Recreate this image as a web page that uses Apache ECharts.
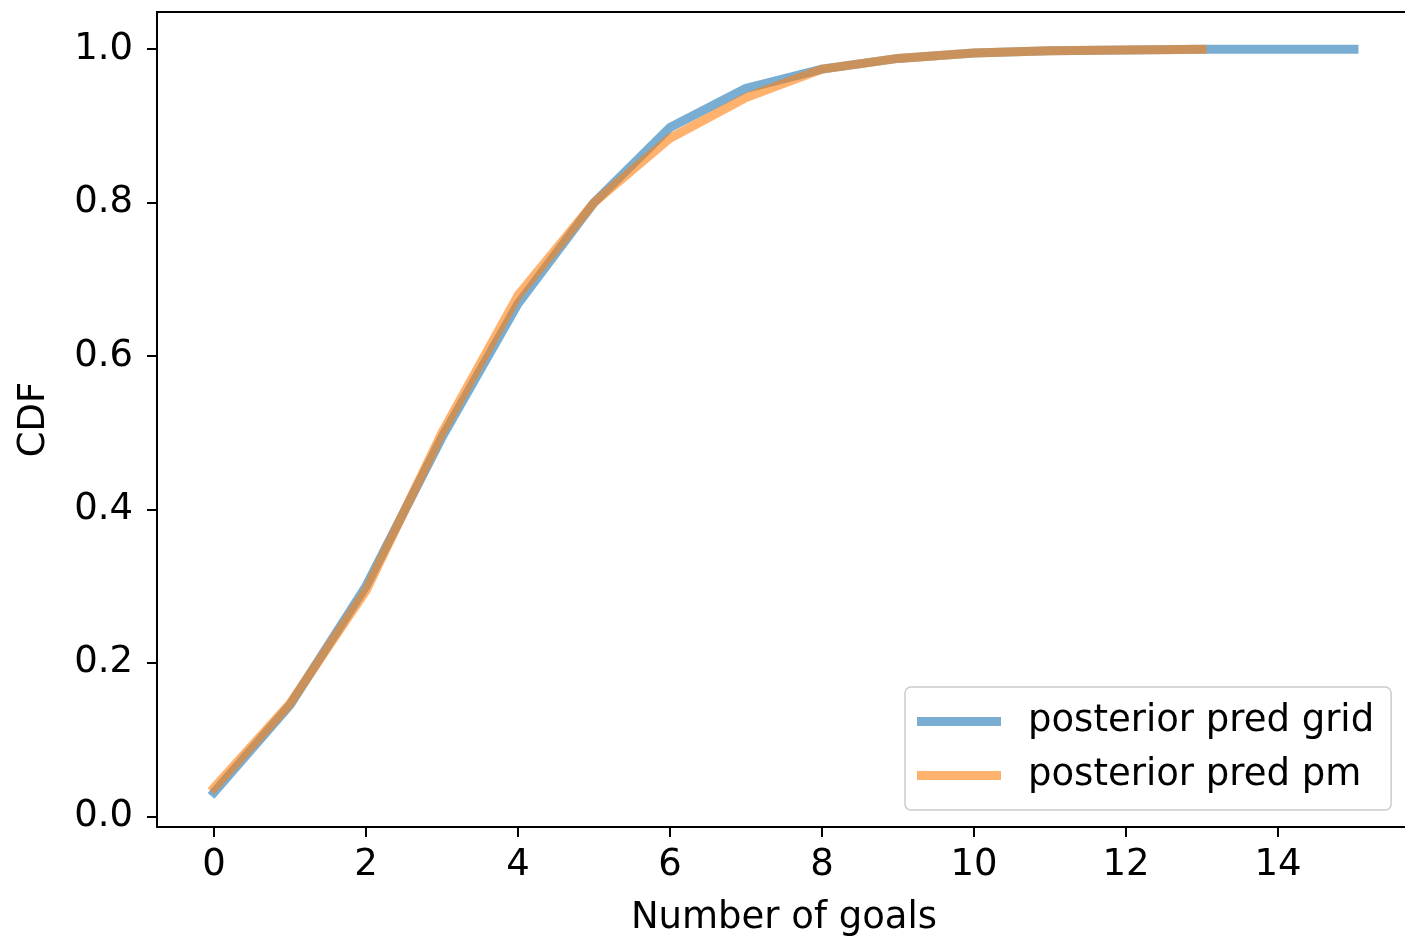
<!DOCTYPE html>
<html>
<head>
<meta charset="utf-8">
<script src="https://cdn.jsdelivr.net/npm/echarts@6/dist/echarts.min.js"></script>
<style>
  html, body { margin: 0; padding: 0; background: #fff; }
  #chart { width: 1405px; height: 942px; }
</style>
</head>
<body>
<div id="chart"></div>
<script>
// Number of goals (x values)
const goals = [0, 1, 2, 3, 4, 5, 6, 7, 8, 9, 10, 11, 12, 13, 14, 15];
// CDF of the grid-based posterior predictive
const cdfGrid = [0.031, 0.145, 0.300, 0.494, 0.668, 0.800, 0.898, 0.949, 0.974, 0.988, 0.995, 0.998, 0.999, 1.0, 1.0, 1.0];
// CDF of the PyMC posterior predictive (support ends at 13)
const cdfPm = [0.037, 0.147, 0.294, 0.500, 0.679, 0.800, 0.884, 0.937, 0.974, 0.988, 0.995, 0.998, 0.999, 1.0];
// Tick labels
const xTicks = [0, 2, 4, 6, 8, 10, 12, 14];
const yTicks = [0.0, 0.2, 0.4, 0.6, 0.8, 1.0];
const seriesNames = ['posterior pred grid', 'posterior pred pm'];

const FONT = 'DejaVu Sans';
const FS = 37;
const chart = echarts.init(document.getElementById('chart'), null, { renderer: 'canvas' });

const toPairs = (xs, ys) => ys.map((y, i) => [xs[i], y]);

const axisCommon = {
  axisLine: { show: true, onZero: false, lineStyle: { color: '#000', width: 2 } },
  axisTick: { show: true, length: 10, lineStyle: { color: '#000', width: 2 } },
  splitLine: { show: false },
  nameTextStyle: { fontFamily: FONT, fontSize: FS, color: '#000' }
};

chart.setOption({
  animation: false,
  backgroundColor: '#fff',
  // the axes box runs a little past the right edge of the canvas
  grid: { left: 157, top: 12, width: 1254, height: 815, containLabel: false, outerBoundsMode: 'none' },
  xAxis: Object.assign({}, axisCommon, {
    type: 'value',
    min: -0.75,
    max: 15.75,
    name: 'Number of goals',
    nameLocation: 'middle',
    nameGap: 73,
    axisTick: Object.assign({}, axisCommon.axisTick, { customValues: xTicks }),
    axisLabel: {
      customValues: xTicks,
      margin: 20,
      fontFamily: FONT, fontSize: FS, color: '#000'
    }
  }),
  yAxis: Object.assign({}, axisCommon, {
    type: 'value',
    min: -0.014,
    max: 1.0485,
    name: 'CDF',
    nameLocation: 'middle',
    nameGap: 104,
    axisTick: Object.assign({}, axisCommon.axisTick, { customValues: yTicks }),
    axisLabel: {
      customValues: yTicks,
      margin: 24,
      fontFamily: FONT, fontSize: FS, color: '#000',
      formatter: v => v.toFixed(1)
    }
  }),
  legend: {
    orient: 'vertical',
    left: 905,
    top: 687,
    padding: [16, 17, 16, 12],
    itemWidth: 84,
    itemHeight: 9,
    itemGap: 17,
    icon: 'rect',
    backgroundColor: 'rgba(255,255,255,0.8)',
    borderColor: '#cccccc',
    borderWidth: 1.5,
    borderRadius: 6,
    textStyle: { fontFamily: FONT, fontSize: FS, color: '#000', padding: [0, 0, 0, 22], lineHeight: 37 },
    data: seriesNames
  },
  series: [
    {
      name: seriesNames[0],
      type: 'line',
      data: toPairs(goals, cdfGrid),
      showSymbol: false,
      symbol: 'none',
      color: 'rgba(31,119,180,0.6)',
      lineStyle: { width: 9, color: 'rgba(31,119,180,0.6)', cap: 'square', join: 'round' },
      z: 2
    },
    {
      name: seriesNames[1],
      type: 'line',
      data: toPairs(goals, cdfPm),
      showSymbol: false,
      symbol: 'none',
      color: 'rgba(255,127,14,0.6)',
      lineStyle: { width: 9, color: 'rgba(255,127,14,0.6)', cap: 'square', join: 'round' },
      z: 3
    }
  ]
});

// Top spine of the axes box, following the grid's top edge
const gridRect = chart.getModel().getComponent('grid').coordinateSystem.getRect();
chart.setOption({
  graphic: [{
    type: 'line',
    shape: { x1: gridRect.x - 1, y1: gridRect.y, x2: gridRect.x + gridRect.width, y2: gridRect.y },
    style: { stroke: '#000', lineWidth: 2 },
    z: 10
  }]
});
</script>
</body>
</html>
